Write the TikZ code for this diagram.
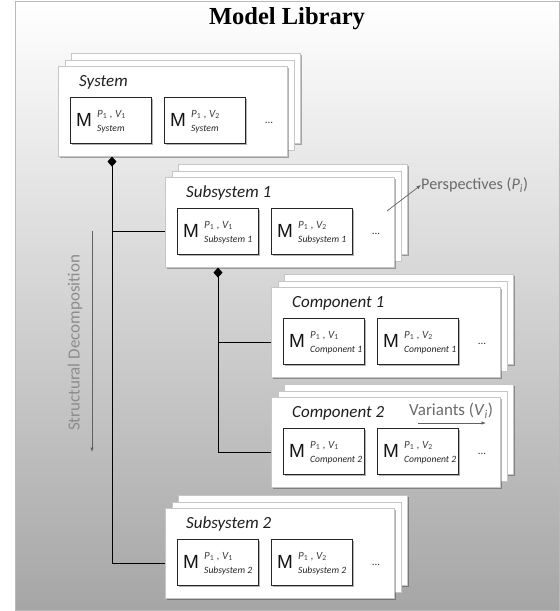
\documentclass[tikz,border=0pt]{standalone}
\usepackage{fontspec}
\setmainfont{Carlito}
\newfontfamily\titlefont{Liberation Serif}
\newfontfamily\mfont{Liberation Sans}
\usetikzlibrary{arrows.meta,shadows}

\tikzset{
  pagebox/.style={anchor=north west, minimum width=229pt, minimum height=90pt,
    inner sep=0pt, fill=white, draw=gray!45, line width=0.6pt,
    drop shadow={shadow xshift=1.6pt, shadow yshift=-1.6pt, opacity=0.3, fill=black}},
  mbox/.style={anchor=north west, minimum width=81pt, minimum height=46pt,
    inner sep=0pt, fill=white, draw=black!85, line width=0.8pt,
    drop shadow={shadow xshift=1.2pt, shadow yshift=-1.2pt, opacity=0.3, fill=black}},
  stacklabel/.style={anchor=base west, inner sep=0pt, text=black!88,
    font=\fontsize{17}{18}\selectfont\itshape},
  mletter/.style={anchor=west, inner sep=0pt, text=black!92,
    font=\mfont\fontsize{19}{20}\selectfont},
  supscr/.style={anchor=west, inner sep=0pt, text=black!75,
    font=\fontsize{11}{12}\selectfont\itshape},
  subscr/.style={anchor=west, inner sep=0pt, text=black!85,
    font=\fontsize{9.6}{10}\selectfont\itshape},
  dots/.style={inner sep=0pt, text=black!80, font=\fontsize{11}{11}\selectfont},
  link/.style={draw=black, line width=0.8pt},
  whole/.style={{Diamond[length=10pt,width=9pt]}-},
  hint/.style={text=black!58, inner sep=0pt, font=\fontsize{17}{18}\selectfont},
  hintarrow/.style={draw=black!62, line width=0.7pt, -{Latex[length=4.5pt,width=3.5pt]}},
}

% one model: M with perspective/variant indices and the element name
\newcommand{\ModelEntry}[3]{%
  \node[mletter,xshift=6pt] (#1-M) at (#1.west) {M};
  \node[supscr,xshift=27pt,yshift=6pt] (#1-sup) at (#1.west)
    {P\textsubscript{\upshape 1}\hspace{2.5pt},\hspace{2.5pt}V\textsubscript{\upshape #2}};
  \node[subscr,xshift=27pt,yshift=-8.5pt] (#1-sub) at (#1.west) {#3};
}

% stack of three pages: name, x, y, title, element name
\newcommand{\ModelStack}[5]{%
  \node[pagebox] (#1-back2) at ({#2+13},{#3-13}) {};
  \node[pagebox] (#1-back1) at ({#2+6.5},{#3-6.5}) {};
  \node[pagebox] (#1) at (#2,#3) {};
  \node[stacklabel] (#1-lbl) at ({#2+21},{#3+20.5}) {#4};
  \node[mbox] (#1-m1) at ({#2+12},{#3+31}) {};
  \node[mbox] (#1-m2) at ({#2+106},{#3+31}) {};
  \ModelEntry{#1-m1}{1}{#5}
  \ModelEntry{#1-m2}{2}{#5}
  \node[dots] (#1-dots) at ({#2+211},{#3+57}) {...};
}

\begin{document}
\begin{tikzpicture}[x=1pt,y=-1pt]
  \useasboundingbox (0,0) rectangle (560,611);

  % library frame
  \shade[top color=white, bottom color=black!35] (15,1) rectangle (559,610);
  \draw[gray!55, line width=0.8pt] (15,1) rectangle (559,610);

  \node[inner sep=0pt, font=\titlefont\bfseries\fontsize{24.5}{25}\selectfont]
    (title) at (287,19) {Model Library};

  % model stacks
  \ModelStack{sys}{58}{66}{System}{System}
  \ModelStack{subA}{165}{177}{Subsystem 1}{Subsystem 1}
  \ModelStack{compA}{271}{287}{Component 1}{Component 1}
  \ModelStack{compB}{271}{397}{Component 2}{Component 2}
  \ModelStack{subB}{165}{508}{Subsystem 2}{Subsystem 2}

  % composition links
  \coordinate (j1) at (112,231);
  \coordinate (j2) at (112,563);
  \coordinate (k1) at (218,342);
  \coordinate (k2) at (218,452);
  \draw[link,whole] (sys.south -| j1) -- (j2) -- (j2 -| subB.west);
  \draw[link] (j1) -- (j1 -| subA.west);
  \draw[link,whole] (subA.south -| k1) -- (k2) -- (k2 -| compB.west);
  \draw[link] (k1) -- (k1 -| compA.west);

  % axes: decomposition, perspectives, variants
  \coordinate (sd1) at (92,231);
  \coordinate (sd2) at (92,452);
  \draw[hintarrow] (sd1) -- (sd2);
  \node[hint, rotate=90, text=black!45] (sdtext) at (75,343) {Structural Decomposition};

  \coordinate (pa1) at (387,211);
  \node[hint, anchor=west, font=\fontsize{16.2}{17}\selectfont] (ptext) at (421,185)
    {Perspectives (\textit{P}\textsubscript{\textit{i}})};
  \draw[hintarrow] (pa1) -- (ptext.west);

  \node[hint, anchor=west] (vtext) at (409,411)
    {Variants (\textit{V}\textsubscript{\textit{i}})};
  \coordinate (va1) at (418,423);
  \coordinate (va2) at (486,423);
  \draw[hintarrow] (va1) -- (va2);
\end{tikzpicture}
\end{document}
